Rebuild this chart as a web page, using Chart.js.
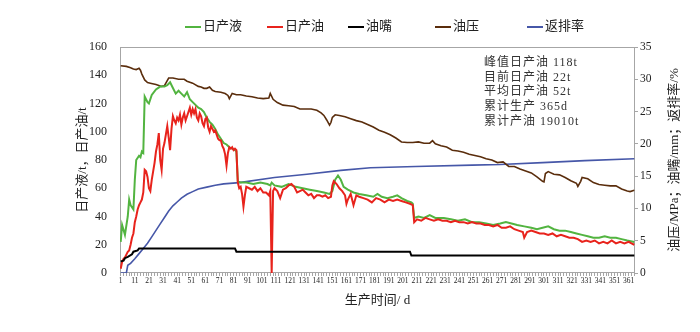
<!DOCTYPE html>
<html>
<head>
<meta charset="utf-8">
<script src="https://cdn.jsdelivr.net/npm/chart.js@4.4.1/dist/chart.umd.min.js"></script>
<style>
  html, body { margin: 0; padding: 0; background: #fff; }
  #wrap { width: 700px; height: 332px; }
</style>
</head>
<body>
<div id="wrap"><canvas id="prodChart" width="700" height="332"></canvas></div>
<script>
// x axis labels (production day)
const dayTicks = [1, 11, 21, 31, 41, 51, 61, 71, 81, 91, 101, 111, 121, 131, 141, 151, 161, 171, 181,
  191, 201, 211, 221, 231, 241, 251, 261, 271, 281, 291, 301, 311, 321, 331, 341, 351, 361];

// [day, t] - left axis
const liquid = [[1,22],[2,34],[4,27],[6,40],[7,52],[8,48],[10,45],[11,66],[12,80],[14,83],[15,82],[16,86],
  [17,85],[18,125],[20,121],[21,120],[23,126],[26,130],[29,132],[32,132],[34,133],[36,135],[38,131],[40,127],
  [42,129],[44,127],[46,125],[48,128],[50,123],[52,121],[54,119],[56,117],[58,116],[60,114],[62,110],[64,107],
  [66,105],[68,102],[70,98],[72,95],[74,92],[76,91],[78,89],[80,88],[82,87],[83,86],[84,65],[86,64],[90,64],
  [95,63],[100,64],[105,63],[107,62],[108,64],[110,62],[115,61],[120,63],[125,61],[130,60],[135,59],[140,58],
  [145,57],[149,56],[151,58],[153,66],[155,69],[157,66],[159,61],[162,59],[166,57],[170,56],[175,55],[180,54],
  [183,56],[186,54],[190,53],[194,54],[197,55],[200,53],[204,51],[207,50],[208,49],[209,39],[212,40],[216,39],
  [220,41],[224,39],[230,39],[235,38],[240,37],[245,38],[250,36],[255,36],[260,35],[265,34],[270,35],[274,36],
  [278,35],[282,34],[287,33],[292,32],[296,31],[300,32],[304,33],[308,31],[312,30],[316,30],[320,29],[324,28],
  [328,27],[332,26],[336,25],[340,25],[344,26],[348,25],[352,25],[356,24],[360,23],[365,22]];

const oil = [[1,3],[2,8],[3,10],[4,11],[5,13],[6,15],[7,16],[8,20],[9,25],[10,28],[11,36],[12,40],[13,45],
  [14,48],[15,50],[16,52],[17,57],[18,73],[19,72],[20,68],[21,60],[22,58],[23,66],[24,72],[25,78],[26,86],
  [27,91],[28,99],[29,80],[30,73],[31,88],[32,92],[33,98],[34,104],[35,96],[36,87],[37,102],[38,111],[39,108],
  [40,106],[41,110],[42,108],[43,112],[44,105],[45,110],[46,113],[47,108],[48,111],[49,114],[50,117],[51,112],
  [52,116],[53,113],[54,116],[55,110],[56,108],[57,113],[58,111],[59,106],[60,104],[61,109],[62,110],[63,103],
  [64,100],[65,104],[66,102],[67,100],[68,101],[69,98],[70,95],[71,94],[72,94],[73,90],[74,88],[75,84],[76,76],
  [77,85],[78,89],[79,88],[80,89],[81,87],[82,88],[83,87],[84,64],[85,60],[86,61],[87,56],[88,47],[89,55],
  [90,61],[92,60],[94,59],[96,61],[98,58],[100,60],[102,57],[104,57],[106,55],[107,58],[108,0],[109,58],
  [110,60],[112,58],[114,53],[116,59],[118,60],[120,62],[122,63],[124,61],[126,57],[128,58],[130,59],[132,57],
  [134,55],[136,56],[138,53],[140,55],[142,55],[144,54],[146,55],[148,53],[150,54],[151,62],[152,65],[154,63],
  [156,60],[158,58],[160,55],[161,49],[162,52],[164,56],[166,48],[168,55],[170,54],[173,53],[176,52],[179,50],
  [182,53],[185,52],[188,50],[191,52],[194,51],[197,52],[200,51],[203,50],[206,49],[208,48],[209,36],[211,38],
  [214,37],[217,39],[220,38],[223,37],[226,38],[229,37],[232,37],[235,36],[238,37],[241,36],[244,36],[247,35],
  [250,36],[253,35],[256,35],[259,34],[262,34],[265,33],[268,34],[271,32],[274,32],[277,33],[280,31],[283,30],
  [286,29],[287,25],[289,29],[292,30],[295,29],[298,28],[301,28],[304,27],[307,28],[310,26],[313,27],[316,26],
  [319,25],[322,25],[325,24],[328,22],[331,23],[334,22],[337,23],[340,21],[343,22],[346,21],[349,23],[352,21],
  [355,22],[358,21],[361,22],[363,21],[365,20]];

// [day, value] - right axis
const choke = [[1,1.8],[3,1.9],[4,2.3],[6,2.5],[9,2.9],[10,3.3],[13,3.5],[14,3.8],[82,3.8],[83,3.3],
  [206,3.3],[207,2.7],[365,2.7]];

const pressure = [[1,32.1],[5,32.0],[8,31.8],[10,31.6],[12,31.5],[14,31.7],[15,31.4],[16,30.8],[18,29.9],
  [20,29.5],[22,29.4],[26,29.2],[30,28.9],[32,29.0],[33,29.4],[35,30.2],[38,30.2],[42,30.0],[46,30.0],
  [48,29.7],[52,29.4],[56,28.9],[58,28.8],[60,28.6],[62,28.6],[64,28.8],[66,28.3],[68,28.1],[72,28.0],
  [75,27.8],[77,27.5],[78,27.0],[80,27.8],[83,27.6],[86,27.6],[90,27.4],[94,27.3],[98,27.1],[102,27.0],
  [106,27.1],[107,27.8],[109,26.9],[112,26.4],[116,26.0],[120,25.9],[124,25.8],[128,25.4],[132,25.4],
  [136,25.4],[140,25.2],[143,24.8],[145,24.4],[147,23.7],[149,22.9],[150,23.3],[151,24.1],[153,24.5],
  [156,24.4],[160,24.2],[164,23.9],[168,23.6],[172,23.4],[176,23.0],[180,22.6],[184,22.1],[188,21.8],
  [192,21.4],[196,20.9],[200,20.3],[204,20.2],[208,20.2],[212,20.3],[216,20.1],[220,20.1],[222,20.5],
  [224,20.0],[228,19.7],[232,19.5],[236,19.0],[240,18.9],[244,18.7],[248,18.4],[252,18.2],[256,18.0],
  [260,17.7],[264,17.5],[268,17.1],[272,17.2],[276,16.5],[280,16.5],[284,16.1],[288,15.8],[292,15.5],
  [296,14.9],[300,14.2],[301,14.1],[302,15.4],[304,15.7],[308,15.3],[312,15.2],[316,14.8],[320,14.3],
  [324,13.9],[325,13.4],[327,14.2],[328,14.8],[332,14.6],[336,14.0],[340,13.7],[344,13.6],[348,13.5],
  [352,13.5],[356,13.0],[360,12.7],[362,12.6],[365,12.8]];

const flowback = [[1,0],[5,0],[6,1.2],[8,1.5],[11,2.2],[14,3.0],[17,3.8],[20,4.6],[23,5.6],[26,6.6],
  [29,7.6],[32,8.6],[35,9.6],[38,10.4],[41,11.0],[44,11.6],[48,12.2],[52,12.6],[56,13.0],[62,13.3],
  [68,13.6],[74,13.8],[85,14.0],[110,14.8],[133,15.3],[157,15.9],[178,16.3],[210,16.5],[250,16.7],
  [270,16.8],[300,17.1],[330,17.4],[365,17.7]];

const seriesNames = ['日产液', '日产油', '油嘴', '油压', '返排率'];
const statsLines = ['峰值日产油 118t', '目前日产油 22t', '平均日产油 52t', '累计生产 365d', '累计产油 19010t'];

const serif = "'Liberation Serif', 'Noto Sans CJK SC', serif";
const textColor = '#222';
const frameColor = '#a6a6a6';

const decorPlugin = {
  id: 'decor',
  beforeDatasetsDraw(chart) {
    const { ctx, chartArea: a } = chart;
    ctx.save();
    ctx.strokeStyle = frameColor;
    ctx.lineWidth = 1;
    ctx.strokeRect(a.left + 0.5, a.top + 0.5, a.right - a.left - 1, a.bottom - a.top - 1);
    ctx.restore();
  },
  afterDraw(chart) {
    const { ctx, chartArea: a } = chart;
    ctx.save();

    // legend
    const legendX = [185, 267, 348, 435, 527];
    ctx.font = '13px ' + serif;
    ctx.textBaseline = 'middle';
    ctx.textAlign = 'left';
    chart.data.datasets.forEach((ds, i) => {
      ctx.strokeStyle = ds.borderColor;
      ctx.lineWidth = 2;
      ctx.beginPath();
      ctx.moveTo(legendX[i], 27);
      ctx.lineTo(legendX[i] + 16, 27);
      ctx.stroke();
      ctx.fillStyle = textColor;
      ctx.fillText(ds.label, legendX[i] + 18, 27);
    });

    // right axis title, reads bottom to top
    ctx.translate(675, (a.top + a.bottom) / 2);
    ctx.rotate(-Math.PI / 2);
    ctx.textAlign = 'center';
    ctx.fillText('油压/MPa；油嘴/mm；返排率/%', 0, 0);
    ctx.setTransform(1, 0, 0, 1, 0, 0);

    // stats box
    ctx.font = '12px ' + serif;
    ctx.letterSpacing = '1px';
    ctx.textAlign = 'left';
    ctx.fillStyle = '#333';
    statsLines.forEach((t, i) => ctx.fillText(t, 484, 63 + i * 14.6));
    ctx.restore();
  }
};

const ctx = document.getElementById('prodChart').getContext('2d');
const prodChart = new Chart(ctx, {
  type: 'line',
  data: {
    datasets: [
      { label: seriesNames[0], data: liquid, borderColor: '#52b440', borderWidth: 2, yAxisID: 'y', order: 2 },
      { label: seriesNames[1], data: oil, borderColor: '#e8231c', borderWidth: 2, yAxisID: 'y', order: 1 },
      { label: seriesNames[2], data: choke, borderColor: '#000000', borderWidth: 2, yAxisID: 'y1', order: 0 },
      { label: seriesNames[3], data: pressure, borderColor: '#5a2d0c', borderWidth: 1.6, yAxisID: 'y1', order: 3 },
      { label: seriesNames[4], data: flowback, borderColor: '#4657a8', borderWidth: 1.6, yAxisID: 'y1', order: 4 }
    ]
  },
  options: {
    responsive: false,
    animation: false,
    devicePixelRatio: 1,
    layout: { padding: { top: 47, left: 71, right: 0, bottom: 20 } },
    elements: {
      point: { radius: 0 },
      line: { tension: 0, fill: false }
    },
    scales: {
      x: {
        type: 'linear',
        min: 0.5,
        max: 365.5,
        afterBuildTicks: (scale) => {
          const ticks = [];
          for (let d = 1; d <= 365; d += 2) ticks.push({ value: d });
          scale.ticks = ticks;
        },
        afterFit: (scale) => { scale.height = 39; },
        ticks: {
          autoSkip: false,
          maxRotation: 0,
          padding: 1,
          color: textColor,
          font: { family: serif, size: 7.5 },
          callback: (v) => dayTicks.includes(v) ? String(v) : ''
        },
        grid: { drawOnChartArea: false, tickLength: 3, color: frameColor },
        border: { display: false },
        title: {
          display: true,
          text: '生产时间/ d',
          color: textColor,
          font: { family: serif, size: 13 },
          padding: { top: 0, bottom: 4 }
        }
      },
      y: {
        position: 'left',
        min: 0,
        max: 160,
        afterFit: (scale) => { scale.width = 49; },
        ticks: { stepSize: 20, padding: 5, color: textColor, font: { family: serif, size: 12 } },
        grid: { display: false },
        border: { display: false },
        title: {
          display: true,
          text: '日产液/t，日产油/t',
          color: textColor,
          font: { family: serif, size: 13 },
          padding: { top: 4, bottom: 0 }
        }
      },
      y1: {
        position: 'right',
        min: 0,
        max: 35,
        afterFit: (scale) => { scale.width = 65; },
        ticks: { stepSize: 5, padding: 2, color: textColor, font: { family: serif, size: 11.5 } },
        grid: { drawOnChartArea: false, tickLength: 3, color: frameColor },
        border: { display: false }
      }
    },
    plugins: {
      legend: { display: false },
      tooltip: { enabled: false }
    }
  },
  plugins: [decorPlugin]
});
</script>
</body>
</html>
